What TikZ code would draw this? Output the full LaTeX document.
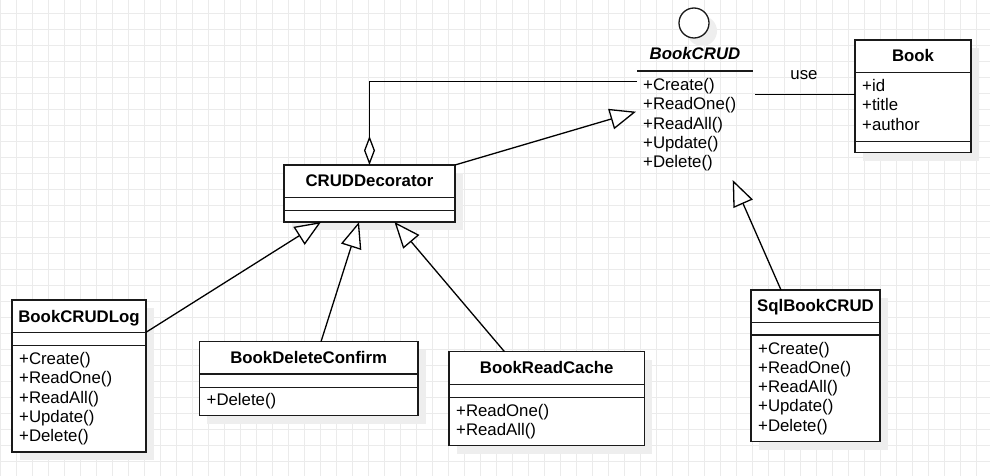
\documentclass[tikz,border=0pt]{standalone}
\usepackage{fontspec}
\setmainfont{Liberation Sans}
\usetikzlibrary{arrows.meta,shadows}
\definecolor{gridc}{HTML}{EBEBEB}
\definecolor{shadowc}{HTML}{EEEEEE}
\definecolor{linec}{HTML}{1A1A1A}
\newcommand\umlfs{\fontsize{16.8}{19.3}\selectfont}
\begin{document}
\begin{tikzpicture}[x=1pt,y=-1pt,
  shad/.style={drop shadow={shadow xshift=8pt,shadow yshift=-8pt,fill=shadowc,opacity=1}},
  umlbox/.style={draw=linec,line width=1.3pt,fill=white,inner sep=0pt,outer sep=0pt,anchor=north west,shad},
  ttl/.style={font=\umlfs\bfseries,inner sep=0pt,anchor=base},
  mtext/.style={font=\umlfs,inner sep=0pt,anchor=base west},
  sepline/.style={draw=linec,line width=1.3pt},
  conn/.style={draw=black,line width=1.3pt},
  gen/.style={conn,-{Triangle[open,fill=white,length=26pt,width=21pt]}},
  aggr/.style={conn,-{Diamond[open,fill=white,length=29pt,width=11pt]}},
]
\useasboundingbox (0,0) rectangle (990,476);
\fill[white] (0,0) rectangle (990,476);
% grid
\foreach \gx in {0,16,...,976} \draw[gridc,line width=1pt] (\gx+0.5,0) -- (\gx+0.5,476);
\foreach \gy in {0,16,...,464} \draw[gridc,line width=1pt] (0,\gy+13.5) -- (990,\gy+13.5);

% ---------- interface BookCRUD
\node[circle,draw=linec,line width=1.3pt,fill=white,minimum size=30pt,inner sep=0pt,shad] (iface) at (694,23) {};
\node[ttl,font=\umlfs\bfseries\itshape] (crudttl) at (695,60) {BookCRUD};
\node[inner sep=0pt,outer sep=0pt,anchor=north west,minimum width=118pt,minimum height=109pt] (crud) at (637,71) {};
\draw[sepline] (crud.north west) -- ([xshift=-2pt]crud.north east);
\foreach \m [count=\i] in {+Create(),+ReadOne(),+ReadAll(),+Update(),+Delete()}
  \node[mtext] (crudm\i) at (643,{90.5+19.3*(\i-1)}) {\m};

% ---------- Book
\node[umlbox,minimum width=116pt,minimum height=112.5pt] (book) at (855,40) {};
\node[ttl] (bookttl) at (913,61.7) {Book};
\draw[sepline] ([yshift=-32.5pt]book.north west) -- ([yshift=-32.5pt]book.north east);
\draw[sepline] ([yshift=-101.7pt]book.north west) -- ([yshift=-101.7pt]book.north east);
\foreach \m [count=\i] in {+id,+title,+author}
  \node[mtext] (booka\i) at (862,{91.7+19.3*(\i-1)}) {\m};

% ---------- CRUDDecorator
\node[umlbox,minimum width=171pt,minimum height=57pt] (dec) at (284,165) {};
\node[ttl] (decttl) at (369.5,186.7) {CRUDDecorator};
\draw[sepline] ([yshift=-32.3pt]dec.north west) -- ([yshift=-32.3pt]dec.north east);
\draw[sepline] ([yshift=-45.3pt]dec.north west) -- ([yshift=-45.3pt]dec.north east);

% ---------- BookCRUDLog
\node[umlbox,minimum width=134pt,minimum height=152pt] (log) at (12,300) {};
\node[ttl] (logttl) at (79,322) {BookCRUDLog};
\draw[sepline] ([yshift=-32.3pt]log.north west) -- ([yshift=-32.3pt]log.north east);
\draw[sepline] ([yshift=-45.3pt]log.north west) -- ([yshift=-45.3pt]log.north east);
\foreach \m [count=\i] in {+Create(),+ReadOne(),+ReadAll(),+Update(),+Delete()}
  \node[mtext] (logm\i) at (19,{364.4+19.3*(\i-1)}) {\m};

% ---------- BookDeleteConfirm
\node[umlbox,minimum width=218.7pt,minimum height=74pt] (del) at (199.3,341.7) {};
\node[ttl] (delttl) at (308.7,363.7) {BookDeleteConfirm};
\draw[sepline] ([yshift=-32.3pt]del.north west) -- ([yshift=-32.3pt]del.north east);
\draw[sepline] ([yshift=-45.6pt]del.north west) -- ([yshift=-45.6pt]del.north east);
\node[mtext] (delm1) at (206.5,405.5) {+Delete()};

% ---------- BookReadCache
\node[umlbox,minimum width=195.3pt,minimum height=94pt] (cache) at (449,351.7) {};
\node[ttl] (cachettl) at (546.7,373.7) {BookReadCache};
\draw[sepline] ([yshift=-32.6pt]cache.north west) -- ([yshift=-32.6pt]cache.north east);
\draw[sepline] ([yshift=-45.6pt]cache.north west) -- ([yshift=-45.6pt]cache.north east);
\foreach \m [count=\i] in {+ReadOne(),+ReadAll()}
  \node[mtext] (cachem\i) at (456,{416.5+19.3*(\i-1)}) {\m};

% ---------- SqlBookCRUD
\node[umlbox,minimum width=129pt,minimum height=151.7pt] (sql) at (751,290) {};
\node[ttl] (sqlttl) at (815.5,311.7) {SqlBookCRUD};
\draw[sepline] ([yshift=-32.3pt]sql.north west) -- ([yshift=-32.3pt]sql.north east);
\draw[sepline] ([yshift=-45pt]sql.north west) -- ([yshift=-45pt]sql.north east);
\foreach \m [count=\i] in {+Create(),+ReadOne(),+ReadAll(),+Update(),+Delete()}
  \node[mtext] (sqlm\i) at (758,{354+19.3*(\i-1)}) {\m};

% ---------- connectors
\draw[aggr] ([yshift=-10.5pt]crud.north west) -| (dec.north);
\draw[gen] (dec.north east) -- ([xshift=-1pt,yshift=-40.7pt]crud.north west);
\draw[conn] ([yshift=1.5pt]book.west) -- ([yshift=1.5pt]book.west -| crud.east);
\node[font=\umlfs,inner sep=0pt,anchor=base] (uselbl) at (804,80) {use};
\draw[gen] ([xshift=30pt]sql.north west) -- ([xshift=95.7pt]crud.south west);
\draw[gen] ([yshift=-32.3pt]log.north east) -- ([xshift=37pt]dec.south west);
\draw[gen] ([xshift=121.7pt]del.north west) -- ([xshift=-10.5pt]dec.south);
\draw[gen] ([xshift=55.5pt]cache.north west) -- ([xshift=25pt]dec.south);
\end{tikzpicture}
\end{document}
